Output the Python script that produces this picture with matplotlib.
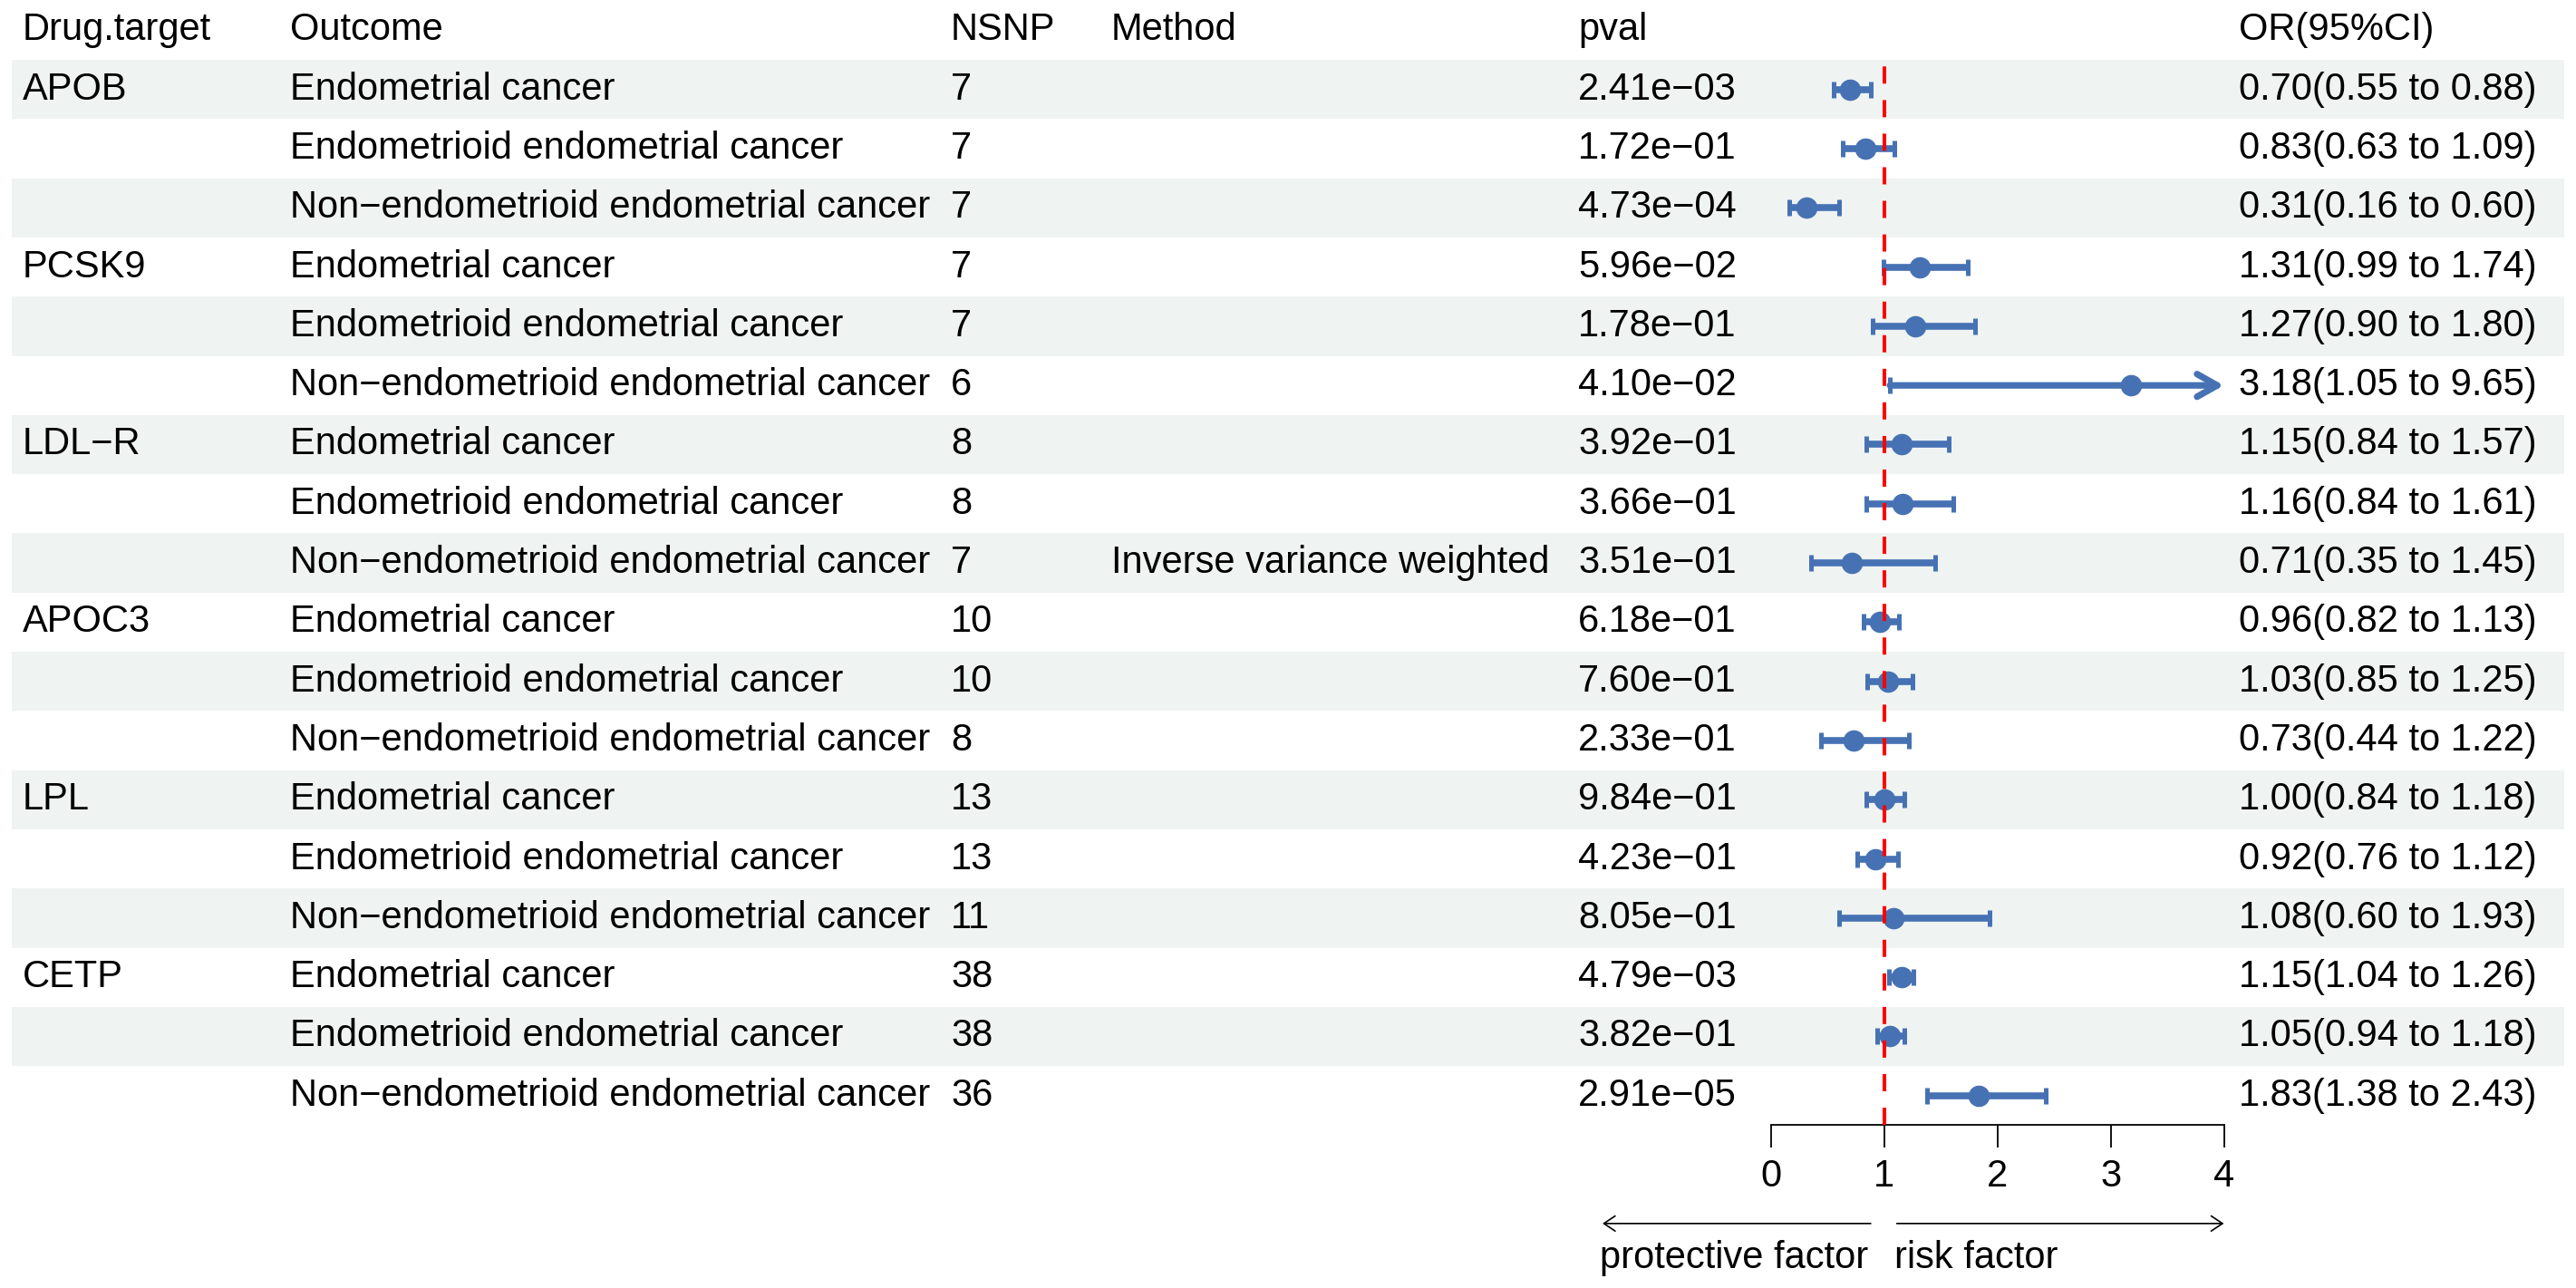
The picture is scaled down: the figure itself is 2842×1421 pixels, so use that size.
import matplotlib
matplotlib.use('Agg')
import matplotlib.pyplot as plt

plt.rcParams['font.family'] = ['Liberation Sans', 'DejaVu Sans']

# table data
targets = ['APOB', 'PCSK9', 'LDL−R', 'APOC3', 'LPL', 'CETP']
outcomes = ['Endometrial cancer', 'Endometrioid endometrial cancer',
            'Non−endometrioid endometrial cancer']
nsnp = [7, 7, 7, 7, 7, 6, 8, 8, 7, 10, 10, 8, 13, 13, 11, 38, 38, 36]
methods = [''] * 8 + ['Inverse variance weighted'] + [''] * 9
pval = [2.41e-03, 1.72e-01, 4.73e-04, 5.96e-02, 1.78e-01, 4.10e-02,
        3.92e-01, 3.66e-01, 3.51e-01, 6.18e-01, 7.60e-01, 2.33e-01,
        9.84e-01, 4.23e-01, 8.05e-01, 4.79e-03, 3.82e-01, 2.91e-05]
odds = [0.70, 0.83, 0.31, 1.31, 1.27, 3.18, 1.15, 1.16, 0.71,
        0.96, 1.03, 0.73, 1.00, 0.92, 1.08, 1.15, 1.05, 1.83]
lower = [0.55, 0.63, 0.16, 0.99, 0.90, 1.05, 0.84, 0.84, 0.35,
         0.82, 0.85, 0.44, 0.84, 0.76, 0.60, 1.04, 0.94, 1.38]
upper = [0.88, 1.09, 0.60, 1.74, 1.80, 9.65, 1.57, 1.61, 1.45,
         1.13, 1.25, 1.22, 1.18, 1.12, 1.93, 1.26, 1.18, 2.43]
headers = ['Drug.target', 'Outcome', 'NSNP', 'Method', 'pval', 'OR(95%CI)']
xticks = [0, 1, 2, 3, 4]

W, H = 2842, 1421
ROW_H = 65.3
ROW0 = 98.7        # pixel centre of first row
FS = 30
BLUE = '#4672B4'
SHADE = '#eff3f2'

n = len(nsnp)
rows = list(range(n))
y_top = -ROW0 / ROW_H
y_bot = y_top + H / ROW_H

fig = plt.figure(figsize=(W / 100, H / 100), dpi=100)

# table part, x in pixels, y in row units
tab = fig.add_axes([0, 0, 1, 1])
tab.set_xlim(0, W)
tab.set_ylim(y_bot, y_top)
tab.axis('off')

for i in rows[::2]:
    tab.axhspan(i - 0.5, i + 0.5, xmin=13 / W, xmax=2829 / W, color=SHADE, lw=0, zorder=0)

col_x = [25, 320, 1049, 1226, 1741, 2470]
for x, h in zip(col_x, headers):
    tab.text(x, -1, h, fontsize=FS, ha='left', va='center')

for i in rows:
    g, k = divmod(i, 3)
    cells = [targets[g] if k == 0 else '', outcomes[k], str(nsnp[i]), methods[i],
             f'{pval[i]:.2e}'.replace('-', '−'),
             f'{odds[i]:.2f}({lower[i]:.2f} to {upper[i]:.2f})']
    for x, s in zip(col_x, cells):
        if s:
            tab.text(x, i, s, fontsize=FS, ha='left', va='center')

# forest part
fx0, fx1 = 1954, 2453.5
ax = fig.add_axes([fx0 / W, 0, (fx1 - fx0) / W, 1])
ax.patch.set_alpha(0)
ax.set_xlim(0, 4)
ax.set_ylim(y_bot, y_top)
for s in ['top', 'left', 'right']:
    ax.spines[s].set_visible(False)
ax.spines['bottom'].set_position(('data', n - 0.5))
ax.spines['bottom'].set_linewidth(1.3)
ax.set_xticks(xticks)
ax.set_yticks([])
ax.tick_params(axis='x', direction='out', length=18, width=1.3, pad=8, labelsize=FS)

xmax = 4
for i in rows:
    if upper[i] > xmax:
        ax.annotate('', xy=(xmax, i), xytext=(lower[i], i),
                    arrowprops=dict(arrowstyle='->,head_length=0.8,head_width=0.45',
                                    mutation_scale=20, lw=5.2, color=BLUE,
                                    shrinkA=0, shrinkB=0, joinstyle='round',
                                    capstyle='round'),
                    zorder=2)
        caps = [lower[i]]
    else:
        ax.hlines(i, lower[i], upper[i], color=BLUE, lw=5.5, zorder=2)
        caps = [lower[i], upper[i]]
    ax.plot(caps, [i] * len(caps), ls='none', marker='|', ms=12.5, mew=3.6,
            color=BLUE, zorder=2)
ax.plot(odds, rows, ls='none', marker='o', ms=16, color=BLUE, zorder=3)

ax.plot([1, 1], [n - 0.5, -0.5], color='red', lw=2.9, ls=(0, (4.7, 4.5)), zorder=4)

# direction arrows
arr_y, lab_y = 19.16, 19.74
ax.annotate('', xy=(-1.49, arr_y), xytext=(0.88, arr_y),
            arrowprops=dict(arrowstyle='->,head_length=0.45,head_width=0.3',
                            mutation_scale=20, lw=1.2, color='black',
                            shrinkA=0, shrinkB=0),
            annotation_clip=False)
ax.annotate('', xy=(4.0, arr_y), xytext=(1.11, arr_y),
            arrowprops=dict(arrowstyle='->,head_length=0.45,head_width=0.3',
                            mutation_scale=20, lw=1.2, color='black',
                            shrinkA=0, shrinkB=0),
            annotation_clip=False)
ax.text(-1.51, lab_y, 'protective factor', fontsize=FS, ha='left', va='center')
ax.text(1.09, lab_y, 'risk factor', fontsize=FS, ha='left', va='center')

fig.savefig('out.png', dpi=100)
